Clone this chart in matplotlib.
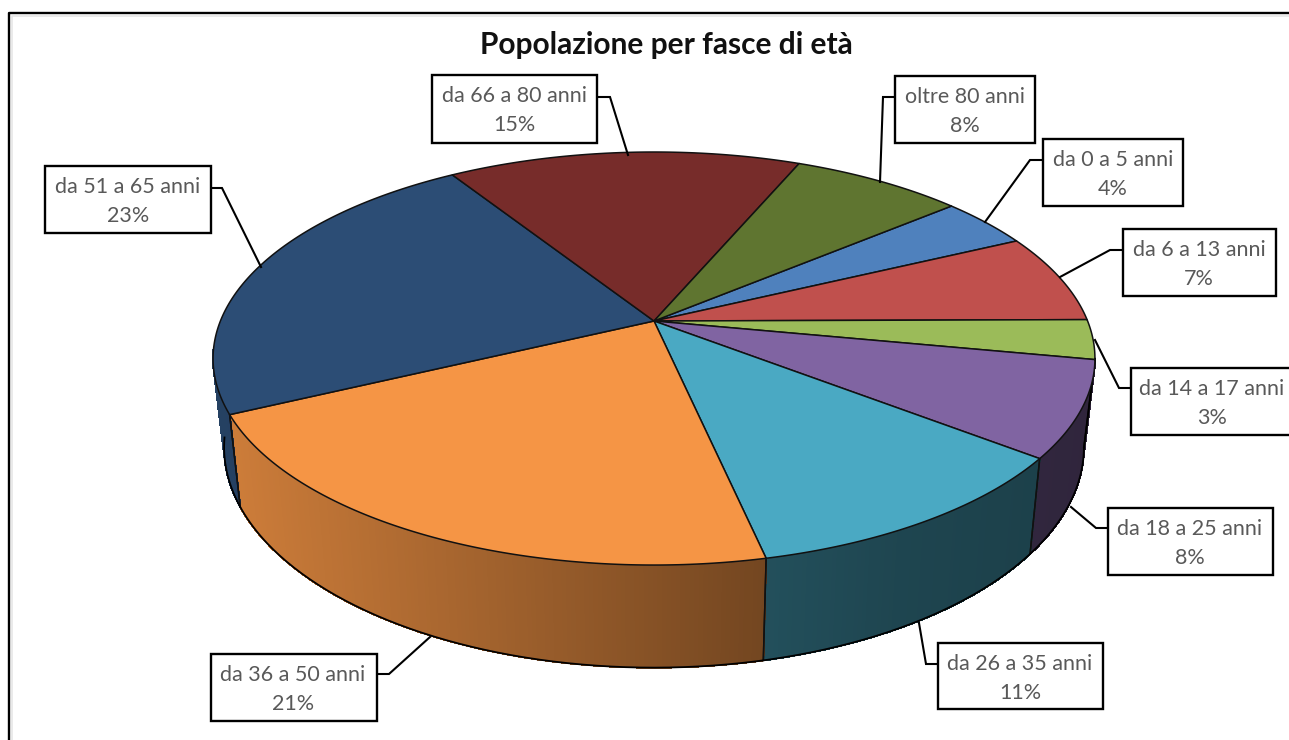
import numpy as np
import matplotlib
matplotlib.use("Agg")
import matplotlib.pyplot as plt
from matplotlib.patches import Polygon, Rectangle

# ---- data ----
title = "Popolazione per fasce di età"
categories = ["da 0 a 5 anni", "da 6 a 13 anni", "da 14 a 17 anni", "da 18 a 25 anni",
              "da 26 a 35 anni", "da 36 a 50 anni", "da 51 a 65 anni", "da 66 a 80 anni",
              "oltre 80 anni"]
values = [4.0, 7.0, 3.1, 7.5, 11.1, 21.3, 23.1, 15.4, 7.5]

# ---- style / layout ----
top_colors = ["#4F81BD", "#C0504D", "#9BBB59", "#8064A2", "#4AA9C3",
              "#F59545", "#2C4D75", "#772C2A", "#5F7530"]
START = 50.0
CX, CY, A, B, K = 654.0, 321.0, 433.6, 199.7, 0.1817
S_LOW, Y_LOW, B_LOW = 0.975, 407.0, 1.068
# label boxes: left, top, right, bottom
boxes = [(1043, 139, 1183, 206), (1123, 229, 1276, 296), (1131, 368, 1300, 435),
         (1108, 508, 1273, 575), (938, 643, 1103, 709), (211, 654, 377, 721),
         (45, 166, 211, 233), (432, 75, 597, 143), (895, 76, 1035, 143)]
text_cx = [1113, 1199, 1212, 1190, 1020, 293, 128, 514, 965]
leaders = [[(1043, 160), (1030, 160), (985, 222)],
           [(1123, 250), (1110, 250), (1060, 277)],
           [(1131, 388), (1119, 388), (1095, 340)],
           [(1108, 528), (1096, 528), (1071, 507)],
           [(938, 664), (926, 664), (919, 623)],
           [(377, 674), (389, 674), (430, 637)],
           [(211, 188), (222, 188), (261, 267)],
           [(597, 97), (610, 97), (628, 155)],
           [(895, 97), (883, 97), (880, 182)]]
plt.rcParams["font.family"] = ["Lato", "DejaVu Sans"]
TXT = "#595959"


def top_xy(theta):
    t = np.radians(theta)
    u, v = np.sin(t), np.cos(t)
    d = 1 + K * v
    return CX + A * u / d, CY - B * v / d


def low_xy(theta):
    x, y = top_xy(theta)
    return CX + S_LOW * (x - CX), Y_LOW + B_LOW * (y - CY)


def shade(x):
    return np.interp(x, [220, 765, 900, 1100], [0.84, 0.47, 0.41, 0.37])


fig = plt.figure(figsize=(12.89, 7.40), dpi=100)
ax = fig.add_axes([0, 0, 1, 1])
ax.set_xlim(0, 1289)
ax.set_ylim(740, 0)
ax.axis("off")

# frame
ax.plot([11.5, 11.5, 1289], [740, 15.5, 15.5], color="#E6E6E6", lw=1.2, zorder=1)
ax.plot([9, 9, 1289], [740, 13, 13], color="black", lw=1.7, zorder=1.5)

ax.text(666, 45, title, ha="center", va="center", fontsize=21.5, fontweight="bold",
        color="#111111", zorder=10, family=["Lato", "DejaVu Sans"])

edges = START + np.concatenate([[0], np.cumsum(values)]) * 3.6
low_limit, high_limit = 100.5, 262.0

# side walls (visible front part only)
for i, col in enumerate(top_colors):
    a0, a1 = edges[i], edges[i + 1]
    a0n, a1n = max(a0, low_limit), min(a1, high_limit)
    if a1n <= a0n:
        continue
    th = np.linspace(a0n, a1n, max(2, int((a1n - a0n) * 2) + 1))
    rgb = np.array(matplotlib.colors.to_rgb(col))
    for t0, t1 in zip(th[:-1], th[1:]):
        x0, y0 = top_xy(t0); x1, y1 = top_xy(t1)
        x2, y2 = low_xy(t1); x3, y3 = low_xy(t0)
        c = rgb * shade((x0 + x1) / 2)
        ax.add_patch(Polygon([(x0, y0), (x1, y1), (x2, y2), (x3, y3)], closed=True,
                             facecolor=c, edgecolor=c, lw=0.8, antialiased=False, zorder=2))
    # wall borders
    for t in [a0, a1]:
        if low_limit <= t <= high_limit:
            x0, y0 = top_xy(t); x1, y1 = low_xy(t)
            ax.plot([x0, x1], [y0, y1], color="#111111", lw=1.1, zorder=3)

# lower rim outline and the right silhouette
th = np.linspace(low_limit, high_limit, 300)
lx, ly = low_xy(th)
ax.plot(lx, ly, color="black", lw=1.3, zorder=3)
x0, y0 = top_xy(low_limit)
ax.plot([x0, lx[0]], [y0, ly[0]], color="black", lw=1.3, zorder=3)

# top face
for i, col in enumerate(top_colors):
    th = np.linspace(edges[i], edges[i + 1], 120)
    x, y = top_xy(th)
    pts = np.vstack([[CX, CY], np.column_stack([x, y])])
    ax.add_patch(Polygon(pts, closed=True, facecolor=col, edgecolor="#111111",
                         lw=1.1, joinstyle="round", zorder=4))

# labels
for name, val, box, cx, lead in zip(categories, values, boxes, text_cx, leaders):
    xs, ys = zip(*lead)
    ax.plot(xs, ys, color="black", lw=1.5, zorder=5, solid_joinstyle="miter")
    l, t, r, b = box
    ax.add_patch(Rectangle((l, t), r - l, b - t, facecolor="white", edgecolor="black",
                           lw=1.7, zorder=6))
    ax.text(cx, t + 21, name, ha="center", va="center", fontsize=15.5, color=TXT, zorder=7)
    ax.text(cx, t + 50, f"{round(val)}%", ha="center", va="center", fontsize=15.5,
            color=TXT, zorder=7)

fig.savefig("out.png", dpi=100, facecolor="white")
